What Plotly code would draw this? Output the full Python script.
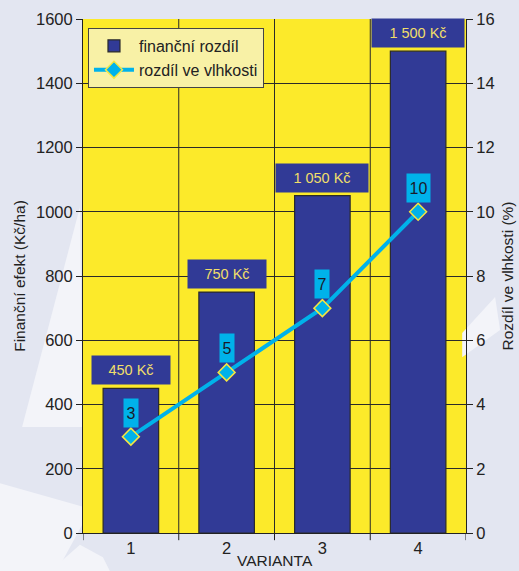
import plotly.graph_objects as go

categories = ["1", "2", "3", "4"]
financni = [450, 750, 1050, 1500]
financni_labels = ["450 Kč", "750 Kč", "1 050 Kč", "1 500 Kč"]
vlhkost = [3, 5, 7, 10]
vlhkost_labels = ["3", "5", "7", "10"]
y_ticks = [0, 200, 400, 600, 800, 1000, 1200, 1400, 1600]
y2_ticks = [0, 2, 4, 6, 8, 10, 12, 14, 16]

xs = [1, 2, 3, 4]
FONT = "Liberation Sans, Arial, sans-serif"
BAR = "#313a96"
CYAN = "#00b2ea"
YEL = "#fcea2a"
LIGHT = "#f3f4f9"

fig = go.Figure()
fig.add_trace(go.Bar(
    x=xs, y=financni, name="finanční rozdíl", width=0.58,
    marker=dict(color=BAR, line=dict(color="#2a2a2a", width=1.2)),
))
fig.add_trace(go.Scatter(
    x=xs, y=vlhkost, name="rozdíl ve vlhkosti", yaxis="y2",
    mode="lines+markers",
    line=dict(color=CYAN, width=4),
    marker=dict(symbol="diamond", size=13, color=CYAN, line=dict(color="#f5e640", width=1.5)),
))

ann = []
for x, v, t in zip(xs, financni, financni_labels):
    ann.append(dict(
        x=x, y=v, xref="x", yref="y", text=t, showarrow=False,
        yanchor="bottom", yshift=3, bgcolor=BAR, borderpad=1,
        width=76 if len(t) < 8 else 90, height=26,
        font=dict(family=FONT, size=14.5, color="#f0df6a"),
    ))
for x, v, t in zip(xs, vlhkost, vlhkost_labels):
    ann.append(dict(
        x=x, y=v, xref="x", yref="y2", text=t, showarrow=False,
        yanchor="bottom", yshift=9, bgcolor=CYAN, borderpad=1,
        width=12 if len(t) < 2 else 21, height=26,
        font=dict(family=FONT, size=16, color="#1a1a2a"),
    ))
ann.append(dict(
    x=0.5, y=-0.073, xref="paper", yref="paper", text="VARIANTA",
    showarrow=False, xanchor="center", yanchor="bottom",
    font=dict(family=FONT, size=15.5, color="#222222"),
))

# faint watermark shapes in the background
def poly(pts):
    path = "M " + " L ".join(f"{a} {b}" for a, b in pts) + " Z"
    return dict(type="path", xref="paper", yref="paper", layer="below",
                path=path, fillcolor=LIGHT, line=dict(width=0))

shapes = [
    poly([(-0.008, 0.634), (-0.159, 0.206), (0.0, 0.206)]),
    poly([(-0.217, 0.097), (0.0, 0.051), (0.0, 0.019), (-0.068, -0.074), (-0.217, -0.074)]),
    poly([(-0.086, -0.074), (-0.008, -0.023), (0.052, -0.047), (0.070, -0.074)]),
    poly([(0.99, 0.389), (1.076, 0.459), (1.089, 0.395), (0.99, 0.342)]),
]

fig.update_layout(
    width=519, height=571,
    margin=dict(l=83, r=53, t=19, b=38),
    paper_bgcolor="#e3e6f1",
    plot_bgcolor=YEL,
    font=dict(family=FONT, size=16.5, color="#222222"),
    showlegend=True,
    legend=dict(
        x=0.013, y=0.9825, xanchor="left", yanchor="top",
        bgcolor="#f8f1a6", bordercolor="#444444", borderwidth=1,
        font=dict(family=FONT, size=16, color="#222222"),
        itemwidth=40, tracegroupgap=0,
    ),
    bargap=0.42,
    xaxis=dict(
        range=[0.5, 4.5], tickmode="array", tickvals=xs, ticktext=categories,
        showgrid=False, ticks="",
        showline=True, linecolor="#222222", linewidth=1,
        tickfont=dict(size=16.5), zeroline=False, automargin=False,
    ),
    yaxis=dict(
        range=[0, 1600], tickvals=y_ticks, ticks="outside", ticklen=6,
        tickcolor="#222222", showgrid=True, gridcolor="#2a2a2a", gridwidth=1,
        showline=True, linecolor="#222222", linewidth=1, zeroline=False,
        title=dict(text="Finanční efekt (Kč/ha)", font=dict(size=15.5), standoff=6),
        tickfont=dict(size=16.5), automargin=False,
    ),
    yaxis2=dict(
        range=[0, 16], tickvals=y2_ticks, overlaying="y", side="right",
        ticks="outside", ticklen=6, tickcolor="#222222", showgrid=False,
        showline=True, linecolor="#222222", linewidth=1, zeroline=False,
        title=dict(text="Rozdíl ve vlhkosti (%)", font=dict(size=15.5), standoff=8),
        tickfont=dict(size=16.5), automargin=False,
    ),
    annotations=ann,
    shapes=shapes + [
        dict(type="line", xref="x", yref="paper", x0=b, x1=b, y0=0, y1=1,
             line=dict(color="#2a2a2a", width=1), layer="below")
        for b in [1.5, 2.5, 3.5]
    ] + [
        dict(type="line", xref="x", yref="paper", x0=b, x1=b, y0=0, y1=-0.014,
             line=dict(color="#222222", width=1))
        for b in [0.5, 1.5, 2.5, 3.5, 4.5]
    ],
)

fig.write_html("out.html")
